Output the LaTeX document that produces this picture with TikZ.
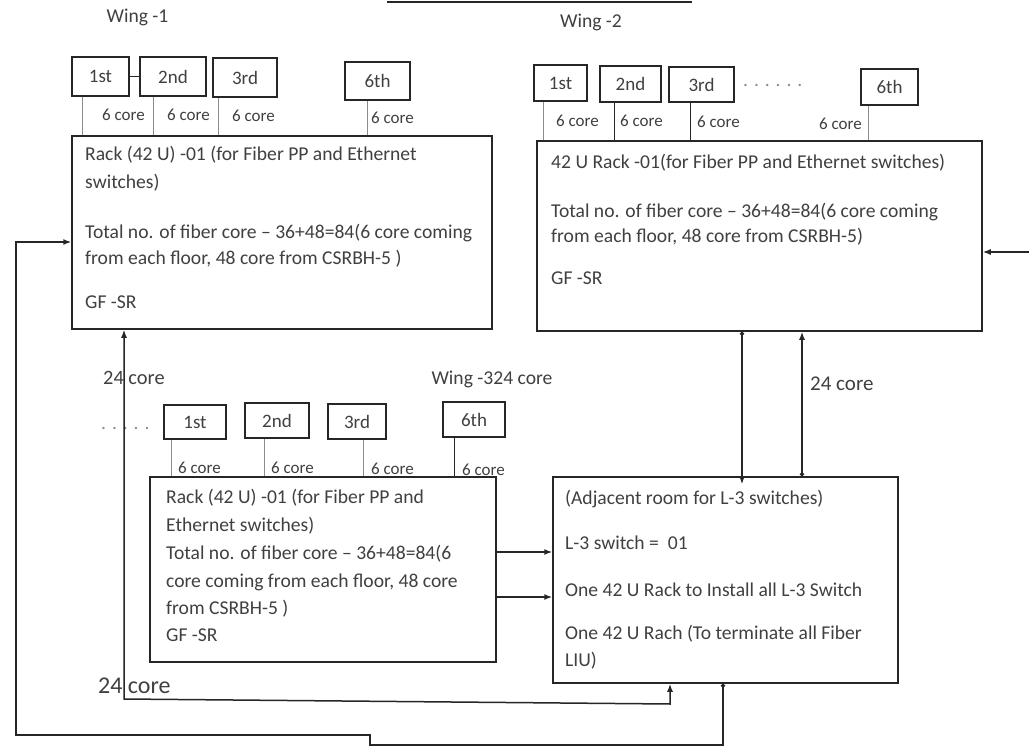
\documentclass[tikz,border=0pt]{standalone}
\usepackage{fontspec}
\setmainfont{Carlito}
\usetikzlibrary{arrows.meta,calc}
\definecolor{inkc}{gray}{0.15}
\definecolor{textc}{gray}{0.25}
\definecolor{feedc}{gray}{0.55}
\begin{document}
\begin{tikzpicture}[x=1pt,y=-1pt,
  box/.style={draw=inkc,line width=1.5pt,inner sep=0pt},
  floorbox/.style={box,text=textc,font=\fontsize{19}{22}\selectfont},
  conn/.style={draw=inkc,line width=1.5pt},
  feed/.style={draw=feedc,line width=1.3pt},
  feeddark/.style={draw=inkc,line width=1.5pt},
  lbl/.style={anchor=base west,inner sep=0pt,text=textc,font=\fontsize{19.6}{24}\selectfont},
  smalllbl/.style={lbl,font=\fontsize{17}{20}\selectfont},
  tip/.style={-{Latex[length=8pt,width=6pt]}},
  dottip/.style={{Circle[length=4pt]}-{Latex[length=8pt,width=6pt]}},
]
\fill[white] (0,0) rectangle (1029,749);
\useasboundingbox (0,0) rectangle (1029,749);

% title underline fragment
\draw[draw=inkc,line width=2pt] (387,2) -- (692,2);

% wing labels
\node[lbl,anchor=base] (w1) at (137.5,23) {Wing -1};
\node[lbl,anchor=base] (w2) at (591,28) {Wing -2};
\node[lbl,anchor=base] (w3) at (492,384) {Wing -324 core};

% racks
\node[box,minimum width=420pt,minimum height=193pt] (rack1) at (282,232.5) {};
\node[box,minimum width=445pt,minimum height=190pt] (rack2) at (759.5,236) {};
\node[box,minimum width=346pt,minimum height=185pt] (rack3) at (323,569.5) {};
\node[box,minimum width=345pt,minimum height=206pt] (l3) at (725.5,580) {};

% rack texts
\node[lbl] (r1a) at (85,161) {Rack (42 U) -01 (for Fiber PP and Ethernet};
\node[lbl] (r1b) at (85,189) {switches)};
\node[lbl] (r1c) at (85,238) {Total no. of fiber core – 36+48=84(6 core coming};
\node[lbl] (r1d) at (85,264) {from each floor, 48 core from CSRBH-5 )};
\node[lbl] (r1e) at (85,308) {GF -SR};

\node[lbl] (r2a) at (551,169) {42 U Rack -01(for Fiber PP and Ethernet switches)};
\node[lbl] (r2b) at (551,218) {Total no. of fiber core – 36+48=84(6 core coming};
\node[lbl] (r2c) at (551,243) {from each floor, 48 core from CSRBH-5)};
\node[lbl] (r2d) at (551,284) {GF -SR};

\node[lbl] (r3a) at (166,503) {Rack (42 U) -01 (for Fiber PP and};
\node[lbl] (r3b) at (166,531) {Ethernet switches)};
\node[lbl] (r3c) at (166,559) {Total no. of fiber core – 36+48=84(6};
\node[lbl] (r3d) at (166,587) {core coming from each floor, 48 core};
\node[lbl] (r3e) at (166,614) {from CSRBH-5 )};
\node[lbl] (r3f) at (166,641) {GF -SR};

\node[lbl] (l3a) at (565,504) {(Adjacent room for L-3 switches)};
\node[lbl] (l3b) at (565,549) {L-3 switch =\ \ 01};
\node[lbl] (l3c) at (565,596) {One 42 U Rack to Install all L-3 Switch};
\node[lbl] (l3d) at (565,639) {One 42 U Rach (To terminate all Fiber};
\node[lbl] (l3e) at (565,666) {LIU)};

% floor boxes wing 1
\node[floorbox,minimum width=57pt,minimum height=39pt] (f11) at (100.5,76.5) {1st};
\node[floorbox,minimum width=66pt,minimum height=39pt] (f12) at (173,76.5) {2nd};
\node[floorbox,minimum width=64pt,minimum height=39pt] (f13) at (245,77.5) {3rd};
\node[floorbox,minimum width=65pt,minimum height=38pt] (f16) at (377.5,81) {6th};
% wing 2
\node[floorbox,minimum width=53pt,minimum height=36pt] (f21) at (560.5,83) {1st};
\node[floorbox,minimum width=61pt,minimum height=36pt] (f22) at (630.5,84) {2nd};
\node[floorbox,minimum width=65pt,minimum height=35pt] (f23) at (701.5,84.5) {3rd};
\node[floorbox,minimum width=57pt,minimum height=36pt] (f26) at (889.5,87) {6th};
\node[lbl,text=feedc] (d2) at (743,87) {. . . . . .};
% wing 3
\node[floorbox,minimum width=62pt,minimum height=34pt] (f31) at (195,422) {1st};
\node[floorbox,minimum width=64pt,minimum height=35pt] (f32) at (277,420.5) {2nd};
\node[floorbox,minimum width=58pt,minimum height=35pt] (f33) at (357,421.5) {3rd};
\node[floorbox,minimum width=62pt,minimum height=35pt] (f36) at (474,419.5) {6th};
\node[lbl,text=feedc] (d3) at (101,429) {. . . . .};

% floor feeds
\draw[conn] (f11.east) -- (f12.west);
\draw[feed] ([xshift=11pt]f11.south west) -- ([xshift=11pt]f11.south west |- rack1.north);
\draw[feed] ([xshift=14pt]f12.south west) -- ([xshift=14pt]f12.south west |- rack1.north);
\draw[feed] ([xshift=6pt]f13.south west) -- ([xshift=6pt]f13.south west |- rack1.north);
\draw[feed] ([xshift=23pt]f16.south west) -- ([xshift=23pt]f16.south west |- rack1.north);

\draw[feed] ([xshift=10pt]f21.south west) -- ([xshift=10pt]f21.south west |- rack2.north);
\draw[feeddark] ([xshift=15pt]f22.south west) -- ([xshift=15pt]f22.south west |- rack2.north);
\draw[feeddark] ([xshift=22pt]f23.south west) -- ([xshift=22pt]f23.south west |- rack2.north);
\draw[feed] ([xshift=8pt]f26.south west) -- ([xshift=8pt]f26.south west |- rack2.north);

\draw[feed] ([xshift=8pt]f31.south west) -- ([xshift=8pt]f31.south west |- rack3.north);
\draw[feed] ([xshift=20pt]f32.south west) -- ([xshift=20pt]f32.south west |- rack3.north);
\draw[feed] ([xshift=36pt]f33.south west) -- ([xshift=36pt]f33.south west |- rack3.north);
\draw[feeddark] ([xshift=12pt]f36.south west) -- ([xshift=12pt]f36.south west |- rack3.north);

% 6 core labels
\node[smalllbl] (c11) at (102,121) {6 core};
\node[smalllbl] (c12) at (167,121) {6 core};
\node[smalllbl] (c13) at (232,122) {6 core};
\node[smalllbl] (c16) at (371,124) {6 core};
\node[smalllbl] (c21) at (556,127) {6 core};
\node[smalllbl] (c22) at (620,127) {6 core};
\node[smalllbl] (c23) at (697,128) {6 core};
\node[smalllbl] (c26) at (819,130) {6 core};
\node[smalllbl] (c31) at (178,473) {6 core};
\node[smalllbl] (c32) at (271,473) {6 core};
\node[smalllbl] (c33) at (371,474) {6 core};
\node[smalllbl] (c36) at (462,475) {6 core};

% core labels
\node[lbl,font=\fontsize{20.4}{24}\selectfont] (k1) at (103,384) {24 core};
\node[lbl,font=\fontsize{24}{28}\selectfont] (k2) at (98,693) {24 core};
\node[lbl,font=\fontsize{21}{24}\selectfont] (k3) at (810,390) {24 core};

% rack2 <-> L3
\coordinate (xa) at (742,0);
\coordinate (xb) at (802,0);
\draw[conn,dottip] (xa |- rack2.south) -- ([yshift=-8pt]xa |- l3.north);
\draw[conn,dottip] (xb |- l3.north) -- (xb |- rack2.south);

% rack3 -> L3
\coordinate (ya) at (0,552);
\coordinate (yb) at (0,597);
\draw[conn,tip] (ya -| rack3.east) -- (ya -| l3.west);
\draw[conn,tip] (yb -| rack3.east) -- (yb -| l3.west);

% incoming from right into rack2
\coordinate (rin) at (1029,252);
\draw[conn,tip] (rin) -- (rin -| rack2.east);

% inner left loop: rack1 <-> L3
\coordinate (ia) at (124,699);
\coordinate (ib) at (670,704);
\draw[conn,{Latex[length=8pt,width=6pt]}-{Latex[length=8pt,width=6pt]}] (ia |- rack1.south) -- (ia) -- (ib) -- (ib |- l3.south);

% outer loop: L3 -> rack1
\coordinate (oa) at (723,745);
\coordinate (ob) at (370,745);
\coordinate (oc) at (370,735);
\coordinate (od) at (16,735);
\coordinate (oe) at (16,242);
\draw[conn,dottip] (oa |- l3.south) -- (oa) -- (ob) -- (oc) -- (od) -- (oe) -- (oe -| rack1.west);
\end{tikzpicture}
\end{document}
